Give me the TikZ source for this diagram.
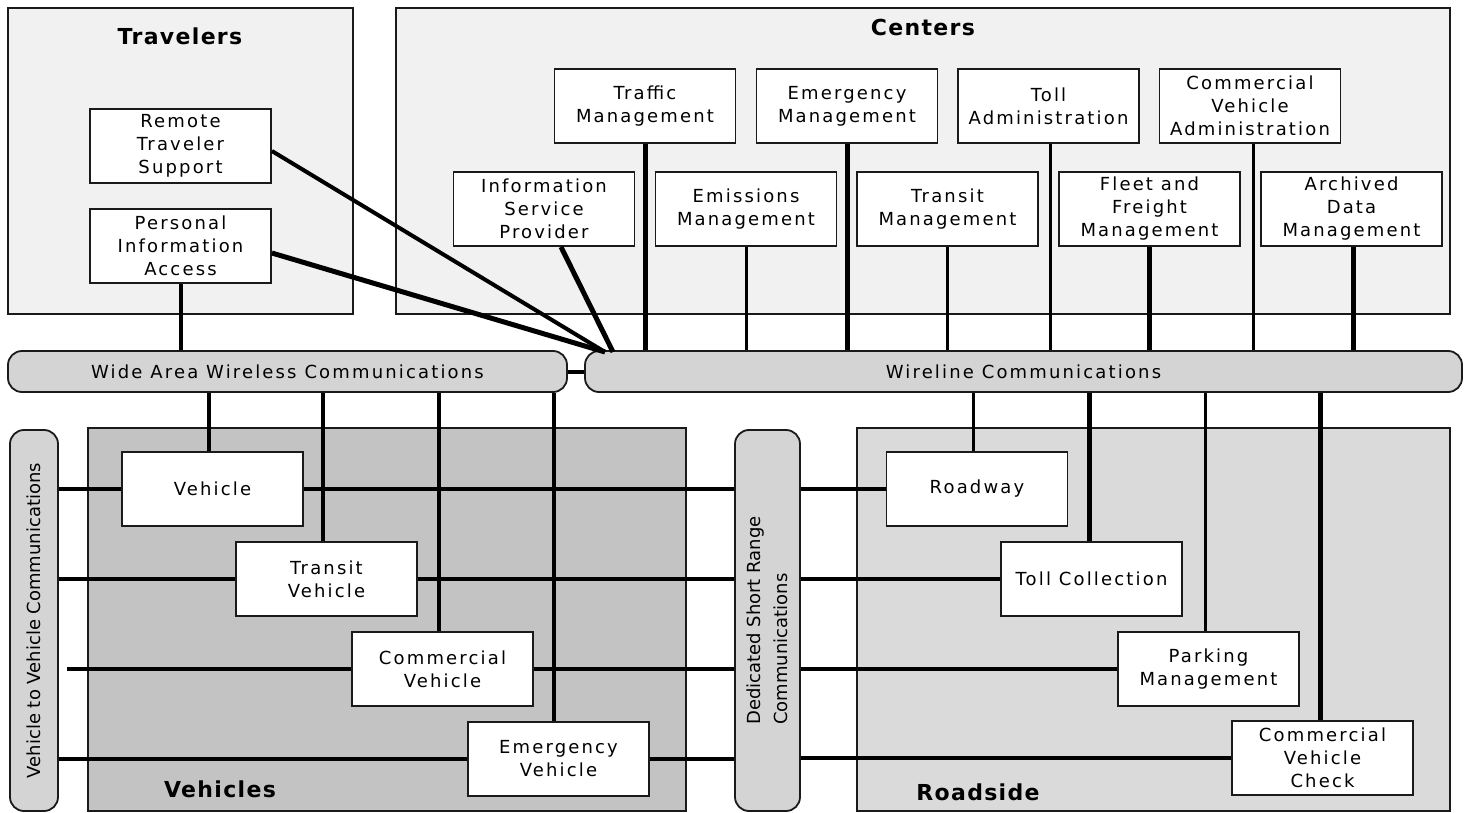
\documentclass[tikz,border=0pt]{standalone}
\usepackage{fontspec}
\setmainfont{DejaVu Sans}
\newfontfamily\unitfont[LetterSpace=12]{DejaVu Sans}
\newfontfamily\rotfont{DejaVu Sans}
\newfontfamily\titlefont[LetterSpace=6]{DejaVu Sans}

\definecolor{paleground}{HTML}{F1F1F1}
\definecolor{vehground}{HTML}{C3C3C3}
\definecolor{roadground}{HTML}{DADADA}
\definecolor{pillgray}{HTML}{D4D4D4}
\definecolor{edge}{HTML}{1A1A1A}

\tikzset{
  group/.style={draw=edge, line width=1.6pt},
  unit/.style={draw=edge, line width=1.8pt, fill=white,
    minimum width=181pt, minimum height=74pt, inner sep=0pt,
    align=center, font=\unitfont\fontsize{18}{23}\selectfont},
  pill/.style={draw=edge, line width=1.8pt, fill=pillgray,
    rounded corners=14pt, inner sep=0pt,
    font=\unitfont\fontsize{18}{23}\selectfont},
  rottext/.style={rotate=90, inner sep=0pt,
    font=\rotfont\fontsize{18}{27}\selectfont},
  title/.style={font=\titlefont\bfseries\fontsize{22}{26}\selectfont},
  thinlink/.style={line width=3pt},
  midlink/.style={line width=4pt},
  thicklink/.style={line width=5pt}
}

\begin{document}
\begin{tikzpicture}[x=1pt, y=-1pt]
\useasboundingbox (0,0) rectangle (1470,813);
\fill[white] (0,0) rectangle (1470,813);

% subsystem groups
\draw[group, fill=paleground] (8,8) rectangle (353,314);
\draw[group, fill=paleground] (396,8) rectangle (1450,314);
\draw[group, fill=vehground] (88,428) rectangle (686,811);
\draw[group, fill=roadground] (857,428) rectangle (1450,811);

\node[title] (travtitle) at (180,36) {Travelers};
\node[title] (centtitle) at (923,27) {Centers};
\node[title] (vehtitle) at (220,789) {Vehicles};
\node[title] (roadtitle) at (978,792) {Roadside};

% travelers
\node[unit] (rts) at (180.5,146) {Remote\\Traveler\\Support};
\node[unit] (pia) at (180.5,246) {Personal\\Information\\Access};

% centers
\node[unit] (tm)  at (645,106)    {Traffic\\Management};
\node[unit] (em)  at (847,106)    {Emergency\\Management};
\node[unit] (ta)  at (1048.5,106) {Toll\\Administration};
\node[unit] (cva) at (1250,106)   {Commercial\\Vehicle\\Administration};
\node[unit] (isp)  at (544,209)    {Information\\Service\\Provider};
\node[unit] (emis) at (746,209)    {Emissions\\Management};
\node[unit] (trm)  at (947.5,209)  {Transit\\Management};
\node[unit] (ffm)  at (1149.5,209) {Fleet and\\Freight\\Management};
\node[unit] (adm)  at (1351.5,209) {Archived\\Data\\Management};

% vehicles
\node[unit] (veh)  at (212.5,489) {Vehicle};
\node[unit] (tveh) at (326.5,579) {Transit\\Vehicle};
\node[unit] (cveh) at (442.5,669) {Commercial\\Vehicle};
\node[unit] (eveh) at (558.5,759) {Emergency\\Vehicle};

% roadside
\node[unit] (road) at (977,489)    {Roadway};
\node[unit] (tcol) at (1091.5,579) {Toll Collection};
\node[unit] (park) at (1208.5,669) {Parking\\Management};
\node[unit] (cvc)  at (1322.5,758) {Commercial\\Vehicle\\Check};

% communication media
\node[pill, minimum width=559pt, minimum height=41pt] (wide) at (287.5,371.5)
  {Wide Area Wireless Communications};
\node[pill, minimum width=877pt, minimum height=41pt] (wire) at (1023.5,371.5)
  {Wireline Communications};
\node[pill, minimum width=48pt, minimum height=381pt] (v2v) at (34,620.5) {};
\node[rottext] (v2vtext) at (v2v.center) {Vehicle to Vehicle Communications};
\node[pill, minimum width=65pt, minimum height=381pt] (dsrc) at (767.5,620.5) {};
\node[rottext, align=left] (dsrctext) at (dsrc.center)
  {Dedicated Short Range\\Communications};

% travelers links
\coordinate (hub) at (605,352);
\draw[midlink] (pia.south) -- (pia.south |- wide.north);
\draw[midlink] ([yshift=-5pt]rts.east) -- (hub);
\draw[thicklink] ([yshift=-7pt]pia.east) -- (hub);
\draw[thicklink] ([xshift=17pt]isp.south) -- ([xshift=8pt]hub);

% centers to wireline
\draw[thicklink] (tm.south) -- (tm.south |- wire.north);
\draw[thinlink] (emis.south) -- (emis.south |- wire.north);
\draw[thicklink] (em.south) -- (em.south |- wire.north);
\draw[thinlink] (trm.south) -- (trm.south |- wire.north);
\draw[thinlink] ([xshift=2pt]ta.south) -- ([xshift=2pt]ta.south |- wire.north);
\draw[thicklink] (ffm.south) -- (ffm.south |- wire.north);
\draw[thinlink] ([xshift=3pt]cva.south) -- ([xshift=3pt]cva.south |- wire.north);
\draw[thicklink] ([xshift=2pt]adm.south) -- ([xshift=2pt]adm.south |- wire.north);

% joint between the two wide area media
\draw[midlink] (wide.east) -- (wire.west);

% wide area wireless to vehicles
\draw[midlink] ([xshift=-4pt]veh.north) -- ([xshift=-4pt]veh.north |- wide.south);
\draw[midlink] ([xshift=-4pt]tveh.north) -- ([xshift=-4pt]tveh.north |- wide.south);
\draw[midlink] ([xshift=-4pt]cveh.north) -- ([xshift=-4pt]cveh.north |- wide.south);
\draw[midlink] ([xshift=-5pt]eveh.north) -- ([xshift=-5pt]eveh.north |- wide.south);

% wireline to roadside
\draw[thinlink] ([xshift=-4pt]road.north) -- ([xshift=-4pt]road.north |- wire.south);
\draw[thicklink] ([xshift=-2pt]tcol.north) -- ([xshift=-2pt]tcol.north |- wire.south);
\draw[thinlink] ([xshift=-3pt]park.north) -- ([xshift=-3pt]park.north |- wire.south);
\draw[thicklink] ([xshift=-2pt]cvc.north) -- ([xshift=-2pt]cvc.north |- wire.south);

% vehicle to vehicle links
\draw[midlink] (v2v.east |- veh.west) -- (veh.west);
\draw[midlink] (v2v.east |- tveh.west) -- (tveh.west);
\draw[midlink] ([xshift=8pt]v2v.east |- cveh.west) -- (cveh.west);
\draw[midlink] (v2v.east |- eveh.west) -- (eveh.west);

% vehicles to dedicated short range
\draw[midlink] (veh.east) -- (veh.east -| dsrc.west);
\draw[midlink] (tveh.east) -- (tveh.east -| dsrc.west);
\draw[midlink] (cveh.east) -- (cveh.east -| dsrc.west);
\draw[midlink] (eveh.east) -- (eveh.east -| dsrc.west);

% dedicated short range to roadside
\draw[midlink] (dsrc.east |- road.west) -- (road.west);
\draw[midlink] (dsrc.east |- tcol.west) -- (tcol.west);
\draw[midlink] (dsrc.east |- park.west) -- (park.west);
\draw[midlink] (dsrc.east |- cvc.west) -- (cvc.west);
\end{tikzpicture}
\end{document}
